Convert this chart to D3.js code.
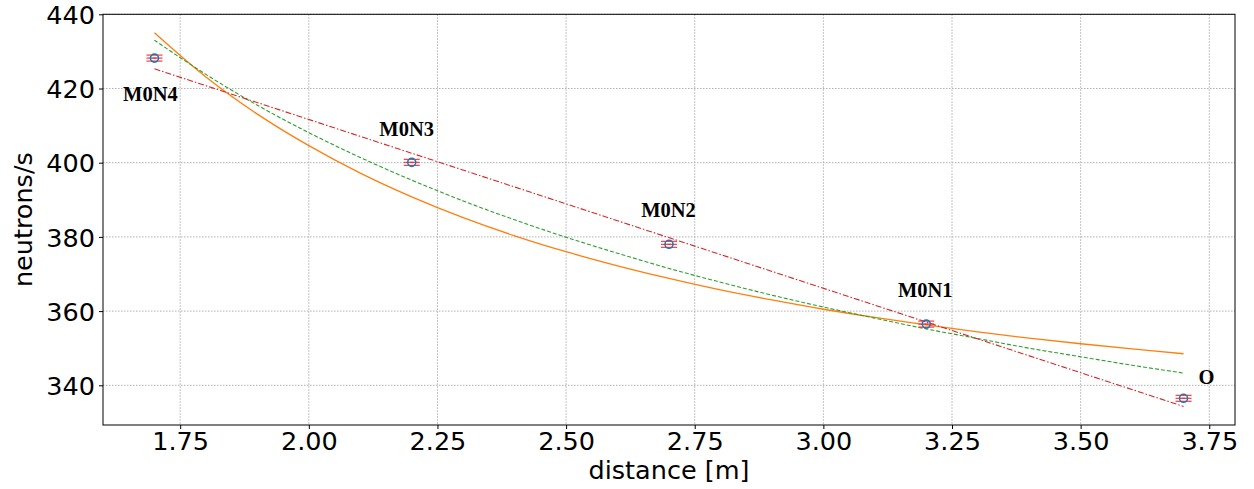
<!DOCTYPE html>
<html><head><meta charset="utf-8">
<script src="https://cdn.jsdelivr.net/npm/d3@7"></script>
<style>body{margin:0;background:#fff}svg{display:block}</style>
</head><body>
<script>
// ---- data ----
const pointNames = ["M0N4","M0N3","M0N2","M0N1","O"];
const pointX = [1.7, 2.2, 2.7, 3.2, 3.7];
const pointY = [428.2, 400.1, 378.0, 356.5, 336.5];
const labelX = [1.639, 2.137, 2.646, 3.145, 3.729];
const labelY = [416.6, 407.2, 385.3, 363.7, 340.3];
const curveX = [1.7,1.8,1.9,2.0,2.1,2.2,2.3,2.4,2.5,2.6,2.7,2.8,2.9,3.0,3.1,3.2,3.3,3.4,3.5,3.6,3.7];
const orangeY = [435.0,423.1,413.1,404.6,397.2,390.8,385.2,380.3,376.0,372.2,368.8,365.7,363.0,360.5,358.3,356.3,354.4,352.7,351.2,349.8,348.5];
const greenY = [433.0,423.8,415.5,408.1,401.4,395.3,389.7,384.6,379.9,375.6,371.5,367.8,364.3,361.1,358.1,355.2,352.6,350.0,347.7,345.4,343.3];
const redX = [1.7, 3.7];
const redY = [425.3, 334.3];
const xTicks = [1.75,2.00,2.25,2.50,2.75,3.00,3.25,3.50,3.75];
const yTicks = [340,360,380,400,420,440];

// ---- layout ----
const W = 1254, H = 489;
const L = 103, R = 1235, T = 14.3, B = 425;
const svg = d3.select("body").append("svg").attr("width", W).attr("height", H);
const x = d3.scaleLinear().domain([1.6, 3.8]).range([L, R]);
const y = d3.scaleLinear().domain([329.3, 440.0]).range([B, T]);
const font = "DejaVu Sans";

// grid
const g = svg.append("g");
g.selectAll(".gx").data(xTicks).join("line")
  .attr("x1", d => x(d)).attr("x2", d => x(d)).attr("y1", T).attr("y2", B)
  .attr("stroke", "#b0b0b0").attr("stroke-width", 1).attr("stroke-dasharray", "1.5,1.5");
g.selectAll(".gy").data(yTicks).join("line")
  .attr("x1", L).attr("x2", R).attr("y1", d => y(d)).attr("y2", d => y(d))
  .attr("stroke", "#b0b0b0").attr("stroke-width", 1).attr("stroke-dasharray", "1.5,1.5");

// axes
const xa = svg.append("g").attr("transform", `translate(0,${B})`)
  .call(d3.axisBottom(x).tickValues(xTicks).tickFormat(d3.format(".2f")).tickSizeOuter(0).tickSize(4).tickPadding(3));
const ya = svg.append("g").attr("transform", `translate(${L},0)`)
  .call(d3.axisLeft(y).tickValues(yTicks).tickFormat(d3.format("d")).tickSizeOuter(0).tickSize(4).tickPadding(4));
[xa, ya].forEach(a => {
  a.select(".domain").remove();
  a.selectAll("text").attr("font-family", font).attr("font-size", 25.5).attr("fill", "#000");
  a.selectAll("line").attr("stroke", "#000");
});
ya.selectAll("text").attr("dy", "0.36em");

// curves
const lineGen = (xs, ys, c) => d3.line().curve(c || d3.curveLinear).x((d, i) => x(xs[i])).y(d => y(d))(ys);
svg.append("path").attr("d", lineGen(curveX, orangeY, d3.curveCatmullRom)).attr("fill", "none")
  .attr("stroke", "#ff7f0e").attr("stroke-width", 1.3);
svg.append("path").attr("d", lineGen(curveX, greenY, d3.curveCatmullRom)).attr("fill", "none")
  .attr("stroke", "#2ca02c").attr("stroke-width", 1.1).attr("stroke-dasharray", "4,2");
svg.append("path").attr("d", lineGen(redX, redY)).attr("fill", "none")
  .attr("stroke", "#d62728").attr("stroke-width", 1.1).attr("stroke-dasharray", "6,2,1.5,2");

// points with error bars
const pts = svg.append("g").selectAll("g").data(pointX).join("g")
  .attr("transform", (d, i) => `translate(${x(d)},${y(pointY[i])})`);
[-3, 0, 3].forEach(dy => {
  pts.append("line").attr("x1", -8).attr("x2", 8).attr("y1", dy).attr("y2", dy)
    .attr("stroke", "#ff2a2a").attr("stroke-width", 1.1);
});
pts.append("circle").attr("r", 4).attr("fill", "none").attr("stroke", "#1f77b4").attr("stroke-width", 1.6);
pts.append("line").attr("x1", -2).attr("x2", 2).attr("y1", 0).attr("y2", 0)
  .attr("stroke", "#ff2a2a").attr("stroke-width", 1.1);

// labels
svg.append("g").selectAll("text").data(pointNames).join("text")
  .attr("x", (d, i) => x(labelX[i])).attr("y", (d, i) => y(labelY[i]))
  .attr("font-family", "Liberation Serif").attr("font-weight", "bold").attr("font-size", 20.5)
  .text(d => d);

// frame
svg.append("rect").attr("x", L).attr("y", T).attr("width", R - L).attr("height", B - T)
  .attr("fill", "none").attr("stroke", "#000").attr("stroke-width", 1);

// axis labels
svg.append("text").attr("x", (L + R) / 2).attr("y", 479).attr("text-anchor", "middle")
  .attr("font-family", font).attr("font-size", 25.5).text("distance [m]");
svg.append("text").attr("transform", `translate(32,${(T + B) / 2}) rotate(-90)`).attr("text-anchor", "middle")
  .attr("font-family", font).attr("font-size", 25.5).text("neutrons/s");
</script>
</body></html>
